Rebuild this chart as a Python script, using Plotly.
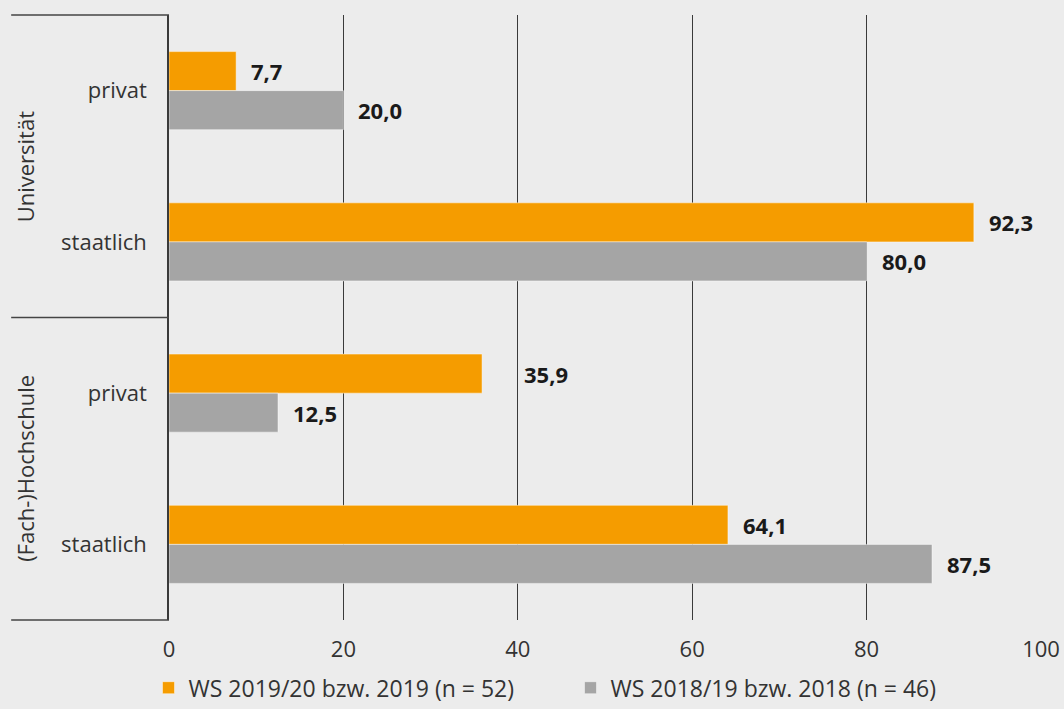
import plotly.graph_objects as go

# ---- data ----
groups = ["Universität", "Universität", "(Fach-)Hochschule", "(Fach-)Hochschule"]
types = ["privat", "staatlich", "privat", "staatlich"]
series_names = ["WS 2019/20 bzw. 2019 (n = 52)", "WS 2018/19 bzw. 2018 (n = 46)"]
values_2019 = [7.7, 92.3, 35.9, 64.1]
values_2018 = [20.0, 80.0, 12.5, 87.5]
x_ticks = [0, 20, 40, 60, 80, 100]

# ---- styles ----
colors = ["#f59c00", "#a5a5a5"]
label_xshift_2019 = [13, 13, 40, 13]
label_xshift_2018 = [13, 13, 13, 13]
FONT = "Open Sans"
BG = "#ececec"

cats = [g + "|" + t for g, t in zip(groups, types)]

fig = go.Figure()
for name, vals, col in zip(series_names, [values_2019, values_2018], colors):
    fig.add_trace(go.Bar(
        y=cats, x=vals, name=name, orientation="h",
        marker=dict(color=col, line=dict(color="rgba(255,255,255,0.45)", width=1)),
        hoverinfo="x",
    ))

# data labels
def fmt(v):
    return f"{v:.1f}".replace(".", ",")

bar_px = 39
for vals, shifts, ysh in [(values_2019, label_xshift_2019, bar_px / 2),
                          (values_2018, label_xshift_2018, -bar_px / 2)]:
    for c, v, s in zip(cats, vals, shifts):
        fig.add_annotation(x=v, y=c, text="<b>" + fmt(v) + "</b>", showarrow=False,
                           xanchor="left", yanchor="middle", xshift=s, yshift=ysh,
                           font=dict(family=FONT, size=22, color="#1a1a1a"))

# group labels + separator lines
uniq_groups = list(dict.fromkeys(groups))
n = len(cats)
left = -0.181
for i, g in enumerate(uniq_groups):
    idx = [k for k, gg in enumerate(groups) if gg == g]
    y0 = 1 - idx[0] / n
    y1 = 1 - (idx[-1] + 1) / n
    fig.add_annotation(x=-0.165, y=(y0 + y1) / 2, xref="paper", yref="paper",
                       text=g, textangle=-90, showarrow=False,
                       xanchor="center", yanchor="middle",
                       font=dict(family=FONT, size=22, color="#333333"))
    for yy in ([y0, y1] if i == 0 else [y1]):
        fig.add_shape(type="line", xref="paper", yref="paper", x0=left, x1=0,
                      y0=yy, y1=yy, line=dict(color="#444444", width=1.5))

fig.update_layout(
    width=1064, height=709,
    paper_bgcolor=BG, plot_bgcolor=BG,
    margin=dict(l=169, r=23, t=15, b=89, autoexpand=False),
    barmode="group", bargap=0.484, bargroupgap=0,
    font=dict(family=FONT, size=22, color="#333333"),
    showlegend=True,
    legend=dict(orientation="h", x=-0.0235, xanchor="left", y=-0.112, yanchor="middle",
                font=dict(family=FONT, size=23, color="#333333"),
                bgcolor="rgba(0,0,0,0)", entrywidth=377, traceorder="normal",
                itemclick=False),
)
fig.update_xaxes(range=[0, 100], tickvals=x_ticks, showgrid=True,
                 gridcolor="#3a3a3a", gridwidth=1, zeroline=False,
                 showline=False, ticks="", ticklabelstandoff=14,
                 tickfont=dict(family=FONT, size=22, color="#333333"),
                 fixedrange=True)
fig.update_yaxes(categoryorder="array", categoryarray=cats, autorange="reversed",
                 tickvals=cats, ticktext=types, showgrid=False, zeroline=False,
                 showline=True, linecolor="#3a3a3a", linewidth=1.5, ticks="",
                 ticklabelstandoff=16,
                 tickfont=dict(family=FONT, size=22, color="#333333"),
                 fixedrange=True)

fig.write_html("out.html", config={"displayModeBar": False},
               post_script="document.body.style.margin='0';")
